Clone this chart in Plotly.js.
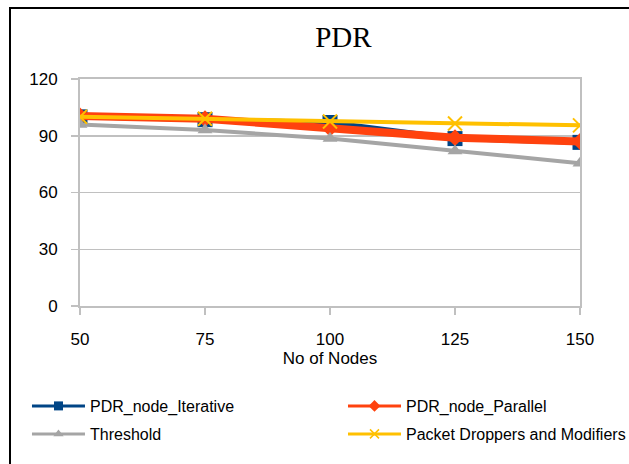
<!DOCTYPE html>
<html>
<head>
<meta charset="utf-8">
<script src="https://cdn.plot.ly/plotly-3.0.1.min.js"></script>
<style>
html,body{margin:0;padding:0;background:#fff;overflow:hidden;}
#chart{position:absolute;left:0;top:0;width:629px;height:464px;}
#frame{position:absolute;left:9px;top:7px;width:700px;height:600px;border:2px solid #000;pointer-events:none;}
</style>
</head>
<body>
<div id="chart"></div>
<div id="frame"></div>
<script>
const nodes = [50, 75, 100, 125, 150];
const iterative = [100, 98.5, 97, 88.5, 86.5];
const parallel = [100.5, 99, 94, 89, 87];
const threshold = [96, 93, 88.5, 82, 75.5];
const droppers = [100, 99, 97.5, 96.5, 95.5];
const yTicks = [0, 30, 60, 90, 120];
const seriesNames = ['PDR_node_Iterative', 'PDR_node_Parallel', 'Threshold', 'Packet Droppers and Modifiers'];

const colors = ['#004586', '#ff420e', '#a5a5a5', '#ffc000'];
const symbols = ['square', 'diamond', 'triangle-up', 'x-thin'];
const values = [iterative, parallel, threshold, droppers];
const lineWidths = [5, 8, 4, 4];
const markerSizes = [15, 13, 13, 14];
const legendIds = ['legend', 'legend2', 'legend3', 'legend4'];

const traces = [];
values.forEach((v, i) => {
  traces.push({
    x: nodes, y: v, name: seriesNames[i], mode: 'lines+markers', showlegend: false,
    line: {color: colors[i], width: lineWidths[i]},
    marker: {symbol: symbols[i], size: markerSizes[i], color: colors[i],
             line: {color: colors[i], width: symbols[i] === 'x-thin' ? 2 : 0}}
  });
});
// legend entries (thin lines, small markers as in the reference legend)
values.forEach((v, i) => {
  traces.push({
    x: [null], y: [null], name: seriesNames[i], mode: 'lines+markers', showlegend: true,
    legend: legendIds[i],
    line: {color: colors[i], width: 3},
    marker: {symbol: symbols[i], size: 9, color: colors[i],
             line: {color: colors[i], width: symbols[i] === 'x-thin' ? 1.5 : 0}}
  });
});

const colX = [0.0429, 0.5453];
const rowY = [0.125, 0.0647];
function leg(c, r) {
  return {orientation: 'h', xref: 'container', yref: 'container',
          x: colX[c], xanchor: 'left', y: rowY[r], yanchor: 'middle',
          itemwidth: 53, bgcolor: 'rgba(0,0,0,0)', borderwidth: 0,
          font: {family: 'Liberation Sans, Arial, sans-serif', size: 16, color: '#000'}};
}

const layout = {
  width: 629, height: 464,
  margin: {l: 80, r: 49, t: 79, b: 158},
  paper_bgcolor: '#fff', plot_bgcolor: '#fff',
  title: {text: 'PDR', font: {family: 'Liberation Serif, Times New Roman, serif', size: 29, color: '#000'},
          x: 0.546, xanchor: 'center', y: 0.92, yanchor: 'middle'},
  xaxis: {
    range: [50, 150], tickvals: nodes, ticktext: nodes.map(String),
    showgrid: false, zeroline: false,
    showline: true, mirror: true, linecolor: '#c0c0c0', linewidth: 2,
    ticks: 'outside', ticklen: 7, tickwidth: 1.5, tickcolor: '#c0c0c0',
    tickfont: {family: 'Liberation Sans, Arial, sans-serif', size: 17, color: '#000'},
    ticklabelstandoff: 10,
    title: {text: 'No of Nodes', font: {family: 'Liberation Sans, Arial, sans-serif', size: 17, color: '#000'}, standoff: 0}
  },
  yaxis: {
    range: [0, 120], tickvals: yTicks,
    showgrid: true, gridcolor: '#c0c0c0', gridwidth: 1.5, zeroline: false,
    showline: true, mirror: true, linecolor: '#c0c0c0', linewidth: 2,
    ticks: 'outside', ticklen: 7, tickwidth: 1.5, tickcolor: '#c0c0c0',
    tickfont: {family: 'Liberation Sans, Arial, sans-serif', size: 17, color: '#000'},
    ticklabelstandoff: 10
  },
  showlegend: true,
  legend: leg(0, 0),
  legend2: leg(1, 0),
  legend3: leg(0, 1),
  legend4: leg(1, 1)
};

Plotly.newPlot('chart', traces, layout, {displayModeBar: false, staticPlot: true});
</script>
</body>
</html>
